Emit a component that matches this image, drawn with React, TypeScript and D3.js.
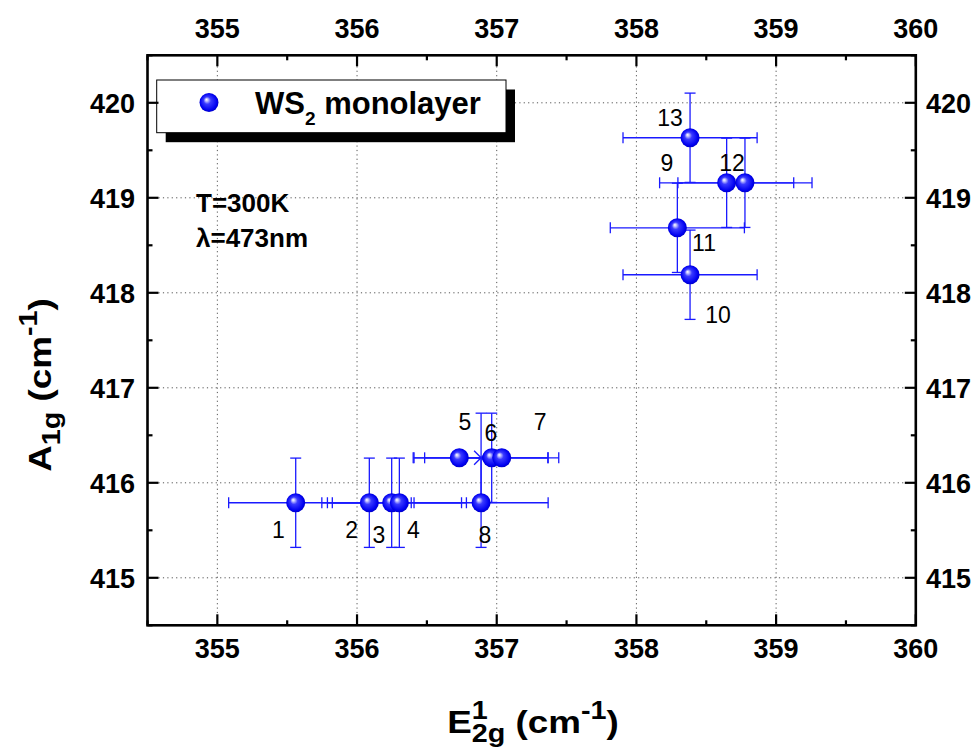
import React from "react";
import * as d3 from "d3";

// ---- data ----
const pointLabels = ["1", "2", "3", "4", "5", "6", "7", "8", "9", "10", "11", "12", "13"];
const e2g = [355.561, 356.088, 356.248, 356.303, 356.732, 356.964, 357.036, 356.888, 358.646, 358.384, 358.293, 358.777, 358.384];
const a1g = [415.79, 415.79, 415.79, 415.79, 416.263, 416.263, 416.263, 415.79, 419.158, 418.19, 418.684, 419.158, 419.632];
const e2gErr = [0.48, 0.3, 0.5, 0.48, 0.33, 0.48, 0.33, 0.48, 0.48, 0.48, 0.48, 0.48, 0.48];
const a1gErr = [0.47, 0.47, 0.47, 0.47, 0, 0.47, 0, 0.47, 0.47, 0.47, 0.47, 0.47, 0.47];
// annotation anchors (data units)
const labelE2g = [355.437, 355.962, 356.157, 356.403, 356.773, 356.959, 357.31, 356.916, 358.219, 358.584, 358.484, 358.684, 358.24];
const labelA1g = [415.508, 415.508, 415.456, 415.508, 416.648, 416.526, 416.648, 415.456, 419.372, 417.772, 418.529, 419.372, 419.845];
// extra cross marker
const crossE2g = [356.888];
const crossA1g = [416.263];
const crossE2gErr = [0.48];
const crossA1gErr = [0.47];

const xTicks = [355, 356, 357, 358, 359, 360];
const xMinor = [354.5, 355.5, 356.5, 357.5, 358.5, 359.5];
const yTicks = [415, 416, 417, 418, 419, 420];
const yMinor = [414.5, 415.5, 416.5, 417.5, 418.5, 419.5, 420.5];

const W = 980;
const H = 749;
const FONT = "'Liberation Sans', Arial, Helvetica, sans-serif";

export default function App() {
  const x = d3.scaleLinear().domain([354.5, 360]).range([147.5, 915.8]);
  const y = d3.scaleLinear().domain([414.5, 420.5]).range([625.3, 55.3]);
  const [x0, x1] = x.range();
  const [y0, y1] = y.range(); // y0 bottom, y1 top
  const blue = "#1a1aff";
  const capW = 5.5;
  const R = 9.5;
  const majorLen = 11;
  const minorLen = 5;

  const errBars = (xs: number[], ys: number[], xe: number[], ye: number[], key: string) =>
    xs.map((v, i) => {
      const cx = x(v);
      const cy = y(ys[i]);
      const xl = x(v - xe[i]);
      const xr = x(v + xe[i]);
      const yt = y(ys[i] + ye[i]);
      const yb = y(ys[i] - ye[i]);
      return (
        <g key={key + i} stroke={blue} strokeWidth={1.3} fill="none">
          {xe[i] > 0 && (
            <>
              <line x1={xl} x2={xr} y1={cy} y2={cy} />
              <line x1={xl} x2={xl} y1={cy - capW} y2={cy + capW} />
              <line x1={xr} x2={xr} y1={cy - capW} y2={cy + capW} />
            </>
          )}
          {ye[i] > 0 && (
            <>
              <line x1={cx} x2={cx} y1={yt} y2={yb} />
              <line x1={cx - capW} x2={cx + capW} y1={yt} y2={yt} />
              <line x1={cx - capW} x2={cx + capW} y1={yb} y2={yb} />
            </>
          )}
        </g>
      );
    });

  return (
    <svg
      width={W}
      height={H}
      style={{ position: "absolute", left: 0, top: 0, background: "#fff" }}
      fontFamily={FONT}
    >
      <defs>
        <radialGradient id="ball" cx="0.5" cy="0.5" r="0.55" fx="0.36" fy="0.34">
          <stop offset="0" stopColor="#ffffff" />
          <stop offset="0.12" stopColor="#c8c8ff" />
          <stop offset="0.35" stopColor="#3a3aff" />
          <stop offset="0.8" stopColor="#0000f0" />
          <stop offset="1" stopColor="#0000b0" />
        </radialGradient>
      </defs>
      <rect x={0} y={0} width={W} height={H} fill="#fff" />

      {/* grid */}
      <g stroke="#555" strokeWidth={1} strokeDasharray="1.2,3.2">
        {xTicks
          .filter((t) => t < 360)
          .map((t) => (
            <line key={"gx" + t} x1={x(t)} x2={x(t)} y1={y1 + majorLen} y2={y0 - majorLen} />
          ))}
        {yTicks.map((t) => (
          <line key={"gy" + t} x1={x0 + majorLen} x2={x1 - majorLen} y1={y(t)} y2={y(t)} />
        ))}
      </g>

      {/* error bars */}
      {errBars(crossE2g, crossA1g, crossE2gErr, crossA1gErr, "c")}
      {errBars(e2g, a1g, e2gErr, a1gErr, "p")}

      {/* cross marker */}
      {crossE2g.map((v, i) => (
        <g key={"x" + i} stroke={blue} strokeWidth={1.3}>
          <line x1={x(v) - 7} x2={x(v) + 7} y1={y(crossA1g[i]) - 7} y2={y(crossA1g[i]) + 7} />
          <line x1={x(v) - 7} x2={x(v) + 7} y1={y(crossA1g[i]) + 7} y2={y(crossA1g[i]) - 7} />
        </g>
      ))}

      {/* points */}
      {e2g.map((v, i) => (
        <circle key={"pt" + i} cx={x(v)} cy={y(a1g[i])} r={R} fill="url(#ball)" />
      ))}

      {/* point labels */}
      {pointLabels.map((s, i) => (
        <text
          key={"lb" + i}
          x={x(labelE2g[i])}
          y={y(labelA1g[i])}
          dy="0.36em"
          textAnchor="middle"
          fontSize={23}
          fill="#000"
        >
          {s}
        </text>
      ))}

      {/* legend */}
      <rect x={165.7} y={89.5} width={349.3} height={52.7} fill="#000" />
      <rect x={156.7} y={80} width={349.3} height={52.7} fill="#fff" stroke="#000" strokeWidth={1} />
      <circle cx={209} cy={102.5} r={R} fill="url(#ball)" />
      <text x={255} y={113.5} fontSize={31} fontWeight="bold" fill="#000">
        WS<tspan fontSize={19} dy={11}>2</tspan>
        <tspan dy={-11}> monolayer</tspan>
      </text>

      <text x={196} y={211.5} fontSize={26} fontWeight="bold" fill="#000">
        T=300K
      </text>
      <text x={196} y={246.5} fontSize={26} fontWeight="bold" fill="#000">
        λ=473nm
      </text>

      {/* frame */}
      <rect x={x0} y={y1} width={x1 - x0} height={y0 - y1} fill="none" stroke="#000" strokeWidth={2.6} />

      {/* ticks */}
      <g stroke="#000" strokeWidth={2.2}>
        {xTicks.map((t) => (
          <g key={"xt" + t}>
            <line x1={x(t)} x2={x(t)} y1={y0} y2={y0 - majorLen} />
            <line x1={x(t)} x2={x(t)} y1={y1} y2={y1 + majorLen} />
          </g>
        ))}
        {xMinor.map((t) => (
          <g key={"xm" + t}>
            <line x1={x(t)} x2={x(t)} y1={y0} y2={y0 - minorLen} />
            <line x1={x(t)} x2={x(t)} y1={y1} y2={y1 + minorLen} />
          </g>
        ))}
        {yTicks.map((t) => (
          <g key={"yt" + t}>
            <line x1={x0} x2={x0 + majorLen} y1={y(t)} y2={y(t)} />
            <line x1={x1} x2={x1 - majorLen} y1={y(t)} y2={y(t)} />
          </g>
        ))}
        {yMinor.map((t) => (
          <g key={"ym" + t}>
            <line x1={x0} x2={x0 + minorLen} y1={y(t)} y2={y(t)} />
            <line x1={x1} x2={x1 - minorLen} y1={y(t)} y2={y(t)} />
          </g>
        ))}
      </g>

      {/* tick labels */}
      <g fontSize={27} fontWeight="bold" fill="#000">
        {xTicks.map((t) => (
          <text key={"xb" + t} x={x(t)} y={658} textAnchor="middle">
            {t}
          </text>
        ))}
        {xTicks.map((t) => (
          <text key={"xtop" + t} x={x(t)} y={38} textAnchor="middle">
            {t}
          </text>
        ))}
        {yTicks.map((t) => (
          <text key={"yl" + t} x={135} y={y(t)} dy="0.36em" textAnchor="end">
            {t}
          </text>
        ))}
        {yTicks.map((t) => (
          <text key={"yr" + t} x={926} y={y(t)} dy="0.36em" textAnchor="start">
            {t}
          </text>
        ))}
      </g>

      {/* axis titles */}
      <text
        transform="translate(533,733) scale(1.15,1)"
        fontSize={32}
        fontWeight="bold"
        textAnchor="middle"
        fill="#000"
      >
        E<tspan fontSize={25} dy={-14}>1</tspan>
        <tspan fontSize={25} dx={-13.9} dy={23}>2g</tspan>
        <tspan dy={-9}> (cm</tspan>
        <tspan fontSize={25} dy={-14}>-1</tspan>
        <tspan dy={14}>)</tspan>
      </text>
      <text
        transform="translate(51,385) rotate(-90) scale(1.15,1)"
        fontSize={32}
        fontWeight="bold"
        textAnchor="middle"
        fill="#000"
      >
        A<tspan fontSize={25} dy={9}>1g</tspan>
        <tspan dy={-9}> (cm</tspan>
        <tspan fontSize={25} dy={-14}>-1</tspan>
        <tspan dy={14}>)</tspan>
      </text>
    </svg>
  );
}
